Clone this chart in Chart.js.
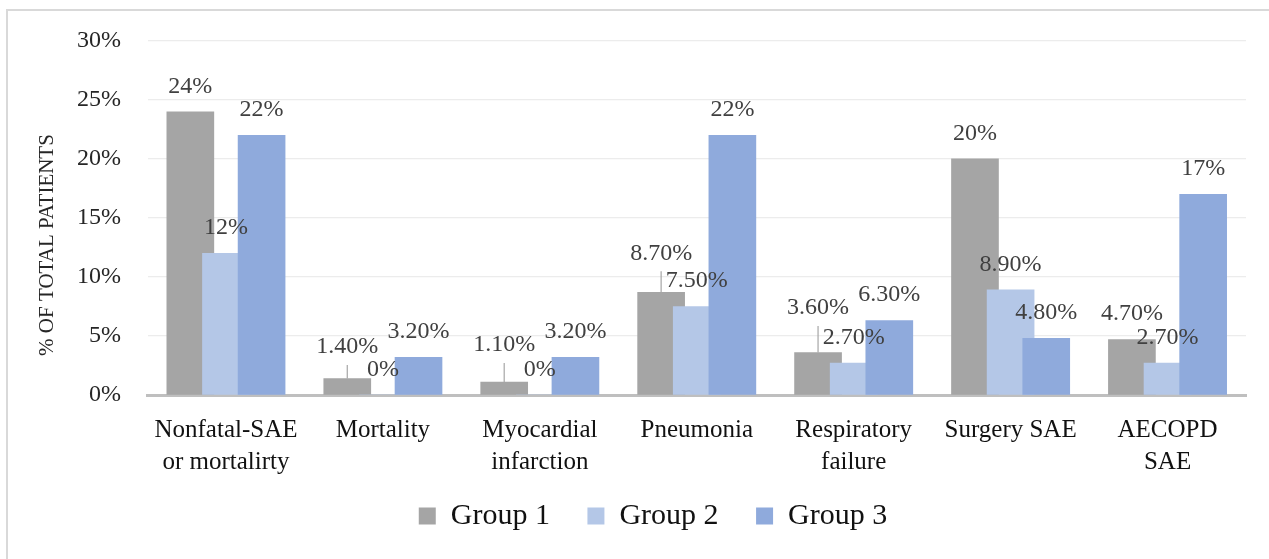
<!DOCTYPE html>
<html>
<head>
<meta charset="utf-8">
<title>Patients by group</title>
<script src="https://cdn.jsdelivr.net/npm/chart.js@4/dist/chart.umd.min.js"></script>
<style>
  html, body { margin: 0; padding: 0; background: #fff; }
  #frame { position: absolute; left: 6px; top: 9px; width: 1320px; height: 600px; border: 2px solid #d9d9d9; }
  #chart { position: absolute; left: 0; top: 0; }
</style>
</head>
<body>
<div id="frame"></div>
<canvas id="chart" width="1269" height="559"></canvas>
<script>
// categories and values (% of total patients)
const categories = [
    ["Nonfatal-SAE", "or mortalirty"],
    "Mortality",
    ["Myocardial", "infarction"],
    "Pneumonia",
    ["Respiratory", "failure"],
    "Surgery SAE",
    ["AECOPD", "SAE"]
];
const group1 = [24, 1.4, 1.1, 8.7, 3.6, 20, 4.7];
const group2 = [12, 0, 0, 7.5, 2.7, 8.9, 2.7];
const group3 = [22, 3.2, 3.2, 22, 6.3, 4.8, 17];
const seriesNames = ["Group 1", "Group 2", "Group 3"];
const yTicks = [0, 5, 10, 15, 20, 25, 30];

const colors = ["#A5A5A5", "#B4C7E7", "#8FAADC"];
const FONT = "'Liberation Serif', 'Times New Roman', serif";

// bars overlap a little inside each category, like the original
const barShift = [-0.227, 0, 0.227];
// labels that were dragged up with a leader line (group 1 only)
const labelLift = [[0, 6, 11.5, 13.5, 19, 0, 0], [], []];

function fmt(v) {
    if (v === 0) return "0%";
    return Number.isInteger(v) ? v + "%" : v.toFixed(2) + "%";
}

const valueLabels = {
    id: "valueLabels",
    afterLayout(chart) {
        // legend row sits a bit higher than its padding would put it
        chart.legend.top -= 18;
        chart.legend.bottom -= 18;
    },
    afterDatasetsDraw(chart) {
        const ctx = chart.ctx;
        ctx.save();
        ctx.font = "24px " + FONT;
        ctx.textAlign = "center";
        ctx.textBaseline = "middle";
        chart.data.datasets.forEach((ds, di) => {
            const meta = chart.getDatasetMeta(di);
            meta.data.forEach((bar, i) => {
                const lift = labelLift[di][i] || 0;
                const ty = bar.y - 25.5 - lift;
                if (lift) {
                    ctx.strokeStyle = "#A6A6A6";
                    ctx.lineWidth = 1.2;
                    ctx.beginPath();
                    ctx.moveTo(bar.x, ty + 18);
                    ctx.lineTo(bar.x, bar.y);
                    ctx.stroke();
                }
                ctx.fillStyle = "#404040";
                ctx.fillText(fmt(ds.data[i].y), bar.x, ty);
            });
        });

        // y axis title
        ctx.translate(47, 245);
        ctx.rotate(-Math.PI / 2);
        ctx.font = "21px " + FONT;
        ctx.fillStyle = "#262626";
        ctx.fillText("% OF TOTAL PATIENTS", 0, 0);
        ctx.restore();
    }
};

const seriesValues = [group1, group2, group3];

new Chart(document.getElementById("chart"), {
    type: "bar",
    data: {
        datasets: seriesValues.map((vals, k) => ({
            label: seriesNames[k],
            data: vals.map((v, i) => ({ x: i + barShift[k], y: v })),
            backgroundColor: colors[k],
            borderWidth: 0,
            grouped: false,
            barThickness: 47,
            order: 3 - k
        }))
    },
    options: {
        responsive: false,
        animation: false,
        layout: { padding: { left: 60, right: 23, top: 39, bottom: 0 } },
        scales: {
            x: {
                type: "linear",
                min: -0.5,
                max: 6.5,
                offset: false,
                z: 1,
                grid: { display: false, drawTicks: false },
                border: { display: true, color: "#BFBFBF", width: 3 },
                afterBuildTicks: (scale) => {
                    scale.ticks = categories.map((_, i) => ({ value: i }));
                },
                afterFit: (scale) => { scale.height = 86.5; },
                ticks: {
                    autoSkip: false,
                    maxRotation: 0,
                    padding: 19,
                    color: "#111",
                    font: { family: FONT, size: 25, lineHeight: 1.29 },
                    callback: (value) => categories[value]
                }
            },
            y: {
                min: 0,
                max: 30,
                afterBuildTicks: (scale) => {
                    scale.ticks = yTicks.map((v) => ({ value: v }));
                },
                afterFit: (scale) => { scale.width = 87.5; },
                grid: { color: "#ECECEC", lineWidth: 1.3, drawTicks: false },
                border: { display: false },
                ticks: {
                    padding: 26.5,
                    color: "#262626",
                    font: { family: FONT, size: 24 },
                    callback: (v) => v + "%"
                }
            }
        },
        plugins: {
            tooltip: { enabled: false },
            legend: {
                position: "bottom",
                labels: {
                    boxWidth: 17,
                    boxHeight: 17,
                    padding: 37.5,
                    color: "#111",
                    font: { family: FONT, size: 30 },
                    sort: (a, b) => a.datasetIndex - b.datasetIndex
                }
            }
        }
    },
    plugins: [valueLabels]
});
</script>
</body>
</html>
